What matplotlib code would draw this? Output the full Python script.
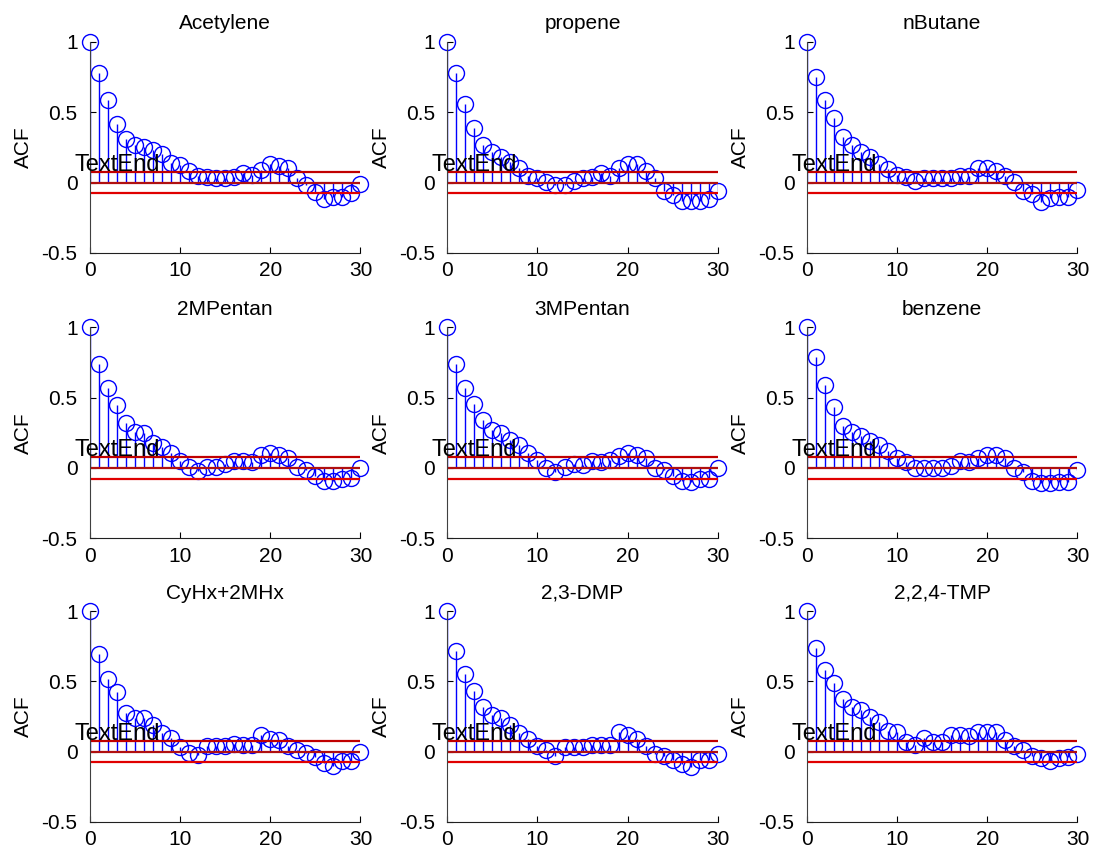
import numpy as np
import matplotlib
matplotlib.use("Agg")
import matplotlib.pyplot as plt

plt.rcParams['font.family'] = ['Liberation Sans', 'DejaVu Sans']

lags = np.arange(31)

names = ["Acetylene", "propene", "nButane",
         "2MPentan", "3MPentan", "benzene",
         "CyHx+2MHx", "2,3-DMP", "2,2,4-TMP"]

acetylene = [1.0, 0.78, 0.586, 0.42, 0.31, 0.27, 0.25, 0.23, 0.20, 0.14, 0.124,
             0.08, 0.043, 0.04, 0.03, 0.03, 0.04, 0.07, 0.057, 0.086, 0.13,
             0.12, 0.10, 0.033, -0.02, -0.07, -0.117, -0.10, -0.10, -0.074, -0.01]
propene = [1.0, 0.78, 0.557, 0.386, 0.27, 0.22, 0.18, 0.148, 0.10, 0.045, 0.033,
           0.005, -0.02, -0.02, 0.01, 0.033, 0.04, 0.07, 0.05, 0.105, 0.13,
           0.13, 0.08, 0.03, -0.057, -0.09, -0.133, -0.133, -0.133, -0.117, -0.057]
nbutane = [1.0, 0.75, 0.586, 0.46, 0.326, 0.27, 0.22, 0.18, 0.13, 0.093, 0.057,
           0.04, 0.014, 0.03, 0.033, 0.03, 0.033, 0.05, 0.05, 0.10, 0.10,
           0.08, 0.045, 0.005, -0.06, -0.085, -0.138, -0.11, -0.10, -0.10, -0.052]
mpentan2 = [1.0, 0.737, 0.568, 0.446, 0.32, 0.258, 0.25, 0.18, 0.146, 0.106, 0.047,
            0.005, -0.02, 0.005, 0.005, 0.028, 0.05, 0.05, 0.045, 0.094, 0.106,
            0.094, 0.068, 0.005, -0.012, -0.054, -0.09, -0.096, -0.077, -0.073, -0.002]
mpentan3 = [1.0, 0.737, 0.568, 0.455, 0.34, 0.268, 0.246, 0.197, 0.162, 0.106, 0.059,
            0.0, -0.026, 0.005, 0.028, 0.02, 0.05, 0.045, 0.059, 0.087, 0.106,
            0.094, 0.068, 0.0, -0.012, -0.059, -0.09, -0.10, -0.077, -0.077, 0.0]
benzene = [1.0, 0.79, 0.587, 0.43, 0.298, 0.258, 0.228, 0.192, 0.162, 0.117, 0.07,
           0.045, 0.0, 0.0, 0.0, 0.0, 0.016, 0.047, 0.045, 0.07, 0.092,
           0.092, 0.068, 0.0, -0.03, -0.09, -0.11, -0.11, -0.10, -0.10, -0.014]
cyhx = [1.0, 0.694, 0.515, 0.425, 0.278, 0.24, 0.24, 0.188, 0.135, 0.097, 0.033,
        -0.007, -0.026, 0.038, 0.038, 0.04, 0.057, 0.05, 0.05, 0.116, 0.093,
        0.086, 0.038, 0.01, -0.007, -0.038, -0.08, -0.105, -0.069, -0.069, 0.0]
dmp23 = [1.0, 0.717, 0.549, 0.43, 0.314, 0.26, 0.24, 0.188, 0.133, 0.088, 0.038,
         0.01, -0.03, 0.03, 0.033, 0.033, 0.05, 0.05, 0.05, 0.14, 0.116,
         0.093, 0.038, -0.014, -0.033, -0.06, -0.085, -0.11, -0.06, -0.06, -0.02]
tmp224 = [1.0, 0.74, 0.58, 0.49, 0.375, 0.32, 0.297, 0.245, 0.21, 0.15, 0.136,
          0.07, 0.047, 0.098, 0.07, 0.066, 0.118, 0.118, 0.113, 0.14, 0.14,
          0.14, 0.082, 0.038, 0.01, -0.03, -0.045, -0.066, -0.045, -0.038, -0.02]

series = [acetylene, propene, nbutane, mpentan2, mpentan3, benzene, cyhx, dmp23, tmp224]
bound = 0.077  # confidence bound

fig = plt.figure(figsize=(10.95, 8.57), dpi=100)

lefts = [0.0822, 0.4085, 0.737]
bottoms = [0.705, 0.372, 0.041]
w, h = 0.247, 0.246

for i, (name, acf) in enumerate(zip(names, series)):
    r, c = divmod(i, 3)
    ax = fig.add_axes([lefts[c], bottoms[r], w, h])
    ml, sl, bl = ax.stem(lags, acf, linefmt='-', markerfmt='o', basefmt=' ')
    sl.set_color('#0000ff')
    sl.set_linewidth(1.0)
    ml.set_markerfacecolor('none')
    ml.set_markeredgecolor('#0000ff')
    ml.set_markersize(11.5)
    ml.set_markeredgewidth(1.0)
    ml.set_clip_on(False)

    # bounds and zero line
    ax.plot([0, 30], [bound, bound], color='#c00000', lw=1.6)
    ax.plot([0, 30], [0, 0], color='#b01010', lw=1.6)
    ax.plot([0, 30], [-bound, -bound], color='#e00000', lw=1.6)

    ax.text(-1.75, 0.085, "TextEnd", fontsize=17, va='baseline', ha='left')

    ax.set_xlim(0, 30)
    ax.set_ylim(-0.5, 1)
    ax.set_xticks([0, 10, 20, 30])
    ax.set_yticks([-0.5, 0, 0.5, 1])
    ax.set_yticklabels(['-0.5', '0', '0.5', '1'])
    ax.spines['top'].set_visible(False)
    ax.spines['right'].set_visible(False)
    ax.spines['left'].set_color('#404040')
    ax.spines['bottom'].set_color('#202020')
    ax.tick_params(direction='in', length=4, labelsize=15)
    ax.tick_params(axis='y', pad=9)
    ax.tick_params(axis='x', pad=6)
    ax.set_ylabel("ACF", fontsize=15, labelpad=6)
    ax.set_title(name, fontsize=15, pad=9)

fig.savefig("out.png", dpi=100)
